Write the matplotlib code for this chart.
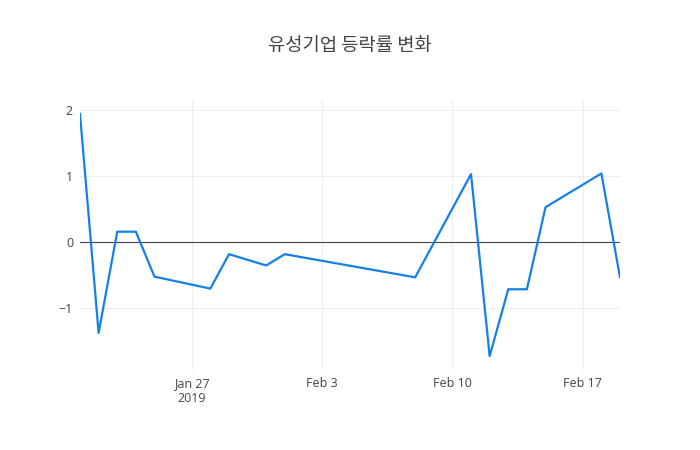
import pandas as pd
import matplotlib
matplotlib.use("Agg")
import matplotlib.pyplot as plt


# data
dates = ["2019-01-21", "2019-01-22", "2019-01-23", "2019-01-24", "2019-01-25",
         "2019-01-28", "2019-01-29", "2019-01-31", "2019-02-01", "2019-02-08",
         "2019-02-11", "2019-02-12", "2019-02-13", "2019-02-14", "2019-02-15",
         "2019-02-18", "2019-02-19"]
rates = [1.94, -1.37, 0.16, 0.16, -0.52,
         -0.70, -0.18, -0.35, -0.18, -0.53,
         1.03, -1.72, -0.71, -0.71, 0.53,
         1.04, -0.53]
tick_dates = ["2019-01-27", "2019-02-03", "2019-02-10", "2019-02-17"]
tick_labels = ["Jan 27\n2019", "Feb 3", "Feb 10", "Feb 17"]
y_ticks = [-1, 0, 1, 2]
y_labels = ["\u22121", "0", "1", "2"]
title = "유성기업 등락률 변화"

x = pd.to_datetime(dates)

fig = plt.figure(figsize=(7, 4.5), dpi=100)
ax = fig.add_axes([80 / 700, 80 / 450, 540 / 700, 270 / 450])

ax.plot(x, rates, color="#1580e6", linewidth=1.6, zorder=3)
ax.axhline(0, color="#444444", linewidth=0.8, zorder=2)

ax.set_xlim(pd.Timestamp("2019-01-21"), pd.Timestamp("2019-02-19"))
ax.set_ylim(-1.93, 2.15)

ax.set_xticks(pd.to_datetime(tick_dates))
ax.set_xticklabels(tick_labels, fontsize=9, color="#444444", family="Open Sans",
                   linespacing=1.2)
ax.set_yticks(y_ticks)
ax.set_yticklabels(y_labels, fontsize=9, color="#444444", family="Open Sans")
ax.tick_params(length=0, pad=5)

ax.grid(True, color="#eeeeee", linewidth=0.8, zorder=0)
ax.set_axisbelow(True)
for s in ax.spines.values():
    s.set_visible(False)

fig.text(0.5, 1 - 45 / 450, title, ha="center", va="center", fontsize=13.5,
         color="#444444", family=["Noto Sans CJK KR", "DejaVu Sans"])

fig.savefig("out.png", dpi=100)
